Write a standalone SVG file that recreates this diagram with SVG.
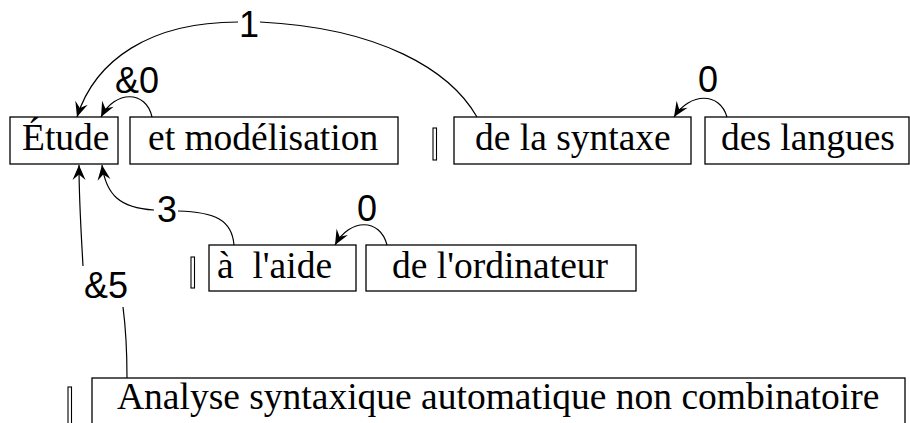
<svg xmlns="http://www.w3.org/2000/svg" width="910" height="423" viewBox="0 0 910 423">
  <style>
    .box { fill: #ffffff; stroke: #000000; stroke-width: 1.3; }
    .bar { fill: #ffffff; stroke: #000000; stroke-width: 1.1; }
    .word { font-family: "Liberation Serif", "Times New Roman", serif; font-size: 37.5px; fill: #000000; }
    .lbl { font-family: "Liberation Sans", Arial, sans-serif; font-size: 36px; fill: #000000; text-anchor: middle; }
    .link { fill: none; stroke: #000000; stroke-width: 1.2; }
  </style>
  <defs>
    <marker id="head" markerUnits="userSpaceOnUse" markerWidth="18" markerHeight="14" refX="0" refY="0" viewBox="-16 -7 18 14" orient="auto" overflow="visible">
      <path d="M0,0 L-15,-6.5 L-9.5,0 L-15,6.5 Z" fill="#000000"/>
    </marker>
  </defs>
  <rect width="910" height="423" fill="#ffffff"/>

  <!-- first line of words -->
  <g id="etude">
    <rect class="box" x="10" y="117" width="108" height="47"/>
    <text class="word" x="22" y="150">Étude</text>
  </g>
  <g id="modelisation">
    <rect class="box" x="130" y="117" width="268" height="47"/>
    <text class="word" x="148" y="150">et modélisation</text>
  </g>
  <g id="sep1">
    <rect class="bar" x="433" y="128" width="3.5" height="32"/>
  </g>
  <g id="syntaxe">
    <rect class="box" x="454" y="117" width="237" height="47"/>
    <text class="word" x="475" y="150">de la syntaxe</text>
  </g>
  <g id="langues">
    <rect class="box" x="705" y="117" width="204" height="47"/>
    <text class="word" x="721" y="150">des langues</text>
  </g>

  <!-- second line of words -->
  <g id="sep2">
    <rect class="bar" x="191" y="257" width="3.5" height="31"/>
  </g>
  <g id="aide">
    <rect class="box" x="209" y="245" width="147" height="46"/>
    <text class="word" x="217" y="278" xml:space="preserve">à  l'aide</text>
  </g>
  <g id="ordinateur">
    <rect class="box" x="366" y="245" width="270" height="46"/>
    <text class="word" x="392" y="278">de l'ordinateur</text>
  </g>

  <!-- third line of words -->
  <g id="sep3">
    <rect class="bar" x="68" y="387" width="3.5" height="40"/>
  </g>
  <g id="analyse">
    <rect class="box" x="92" y="378" width="813" height="60"/>
    <text class="word" x="117" y="409">Analyse syntaxique automatique non combinatoire</text>
  </g>

  <!-- dependency arcs -->
  <g id="links">
    <path class="link" d="M238,22 C150,22 95,60 77,117" marker-end="url(#head)"/>
    <path class="link" d="M260,22 C380,28 450,70 477,117"/>
    <text class="lbl" x="249" y="37">1</text>

    <path class="link" d="M152,117 C146,90 115,90 101,117" marker-end="url(#head)"/>
    <text class="lbl" x="137" y="93">&amp;0</text>

    <path class="link" d="M727,117 C720,92 690,92 674,117" marker-end="url(#head)"/>
    <text class="lbl" x="708" y="92">0</text>

    <path class="link" d="M234,245 C232,220 215,212 178,211"/>
    <path class="link" d="M154,210 C120,208 106,195 102,165" marker-end="url(#head)"/>
    <text class="lbl" x="167" y="222">3</text>

    <path class="link" d="M387,245 C380,218 350,218 335,245" marker-end="url(#head)"/>
    <text class="lbl" x="367" y="221">0</text>

    <path class="link" d="M83,266 C81,230 79,200 79,165" marker-end="url(#head)"/>
    <path class="link" d="M123,307 C126,330 127,355 127,378"/>
    <text class="lbl" x="106" y="298">&amp;5</text>
  </g>
</svg>
